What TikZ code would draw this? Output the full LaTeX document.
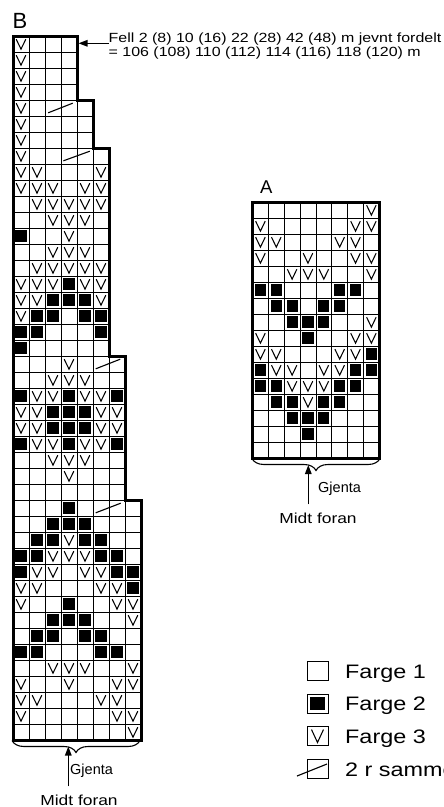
\documentclass[tikz,border=0pt]{standalone}
\usepackage{fontspec}
\setmainfont{Liberation Sans}
\newfontfamily\widesf[FakeStretch=1.2]{Liberation Sans}
\usetikzlibrary{arrows.meta,calc,decorations.pathreplacing}

\begin{document}
\begin{tikzpicture}[x=1pt,y=-1pt,
  gridline/.style={line width=.8pt},
  border/.style={line width=3pt,line join=miter},
  cell/.style={fill=black},
  vmark/.pic={\draw[line width=1.05pt] (-.3,-.3) -- (0,.32) -- (.3,-.3);},
  slash/.style={line width=1.1pt},
  arr/.style={line width=1.3pt,-{Triangle[length=9pt,width=6.5pt]}},
  brc/.style={line width=1.1pt,decorate,decoration={brace,mirror,amplitude=12pt}},
  lab/.style={inner sep=0pt},
  leg/.style={inner sep=0pt,anchor=base west,font=\widesf\fontsize{19.5}{19.5}\selectfont}]
\useasboundingbox (0,0) rectangle (444,807);

% chart B
\node[lab,anchor=base west,font=\fontsize{22}{22}\selectfont] (labB) at (12.5,28.3) {B};
\begin{scope}[shift={(13,36)},x=16pt,y=-16pt]
  \foreach \a/\b/\w in {1/3/4,4/6/5,7/19/6,20/28/7,29/43/8}
    \foreach \r in {\a,...,\b} \draw[gridline] (0,\r) -- (\w,\r);
  \foreach \c/\t in {1/0,2/0,3/0,4/4,5/7,6/20,7/29}
    \draw[gridline] (\c,\t) -- (\c,44);
  \foreach \r/\cs in {12/{0},15/{3},16/{2,3,4},17/{1,2,4,5},18/{0,1,5},19/{0},
      22/{0,3,6},23/{2,3,4},24/{2,3,4},25/{0,3,6},29/{3},30/{2,3,4},31/{1,2,4,5},
      32/{0,1,5,6},33/{0,6,7},34/{7},35/{3},36/{2,3,4},37/{1,2,4,5},38/{0,1,5,6}}
    \foreach \c in \cs \fill[cell] (\c+.15,\r+.15) rectangle (\c+.85,\r+.85);
  \foreach \r/\cs in {0/{0},1/{0},2/{0},3/{0},4/{0},5/{0},6/{0},7/{0},8/{0,1,5},
      9/{0,1,2,4,5},10/{1,2,3,4,5},11/{2,3,4},12/{3},13/{2,3,4},14/{1,2,3,4,5},
      15/{0,1,2,4,5},16/{0,1,5},17/{0},20/{3},21/{2,3,4},22/{1,2,4,5},23/{0,1,5,6},
      24/{0,1,5,6},25/{1,2,4,5},26/{2,3,4},27/{3},31/{3},32/{2,3,4},33/{1,2,4,5},
      34/{0,1,5,6},35/{0,6,7},36/{7},39/{2,3,4,7},40/{0,3,6,7},41/{0,1,5,6},
      42/{0,6,7},43/{7}}
    \foreach \c in \cs \pic at (\c+.5,\r+.5) {vmark};
  \draw[slash] (2.2,4.8) -- (3.73,4.2);
  \draw[slash] (3.15,7.8) -- (4.8,7.2);
  \draw[slash] (5.17,20.8) -- (6.7,20.2);
  \draw[slash] (5.17,29.8) -- (6.73,29.2);
  \draw[border] (0,0) -| (4,4) -| (5,7) -| (6,20) -| (7,29) -| (8,44) -- (0,44) -- cycle;
\end{scope}
\node[lab,anchor=north west,align=left,font=\widesf\fontsize{13.3}{12.2}\selectfont] (fell) at (108.5,33)
  {Fell 2 (8) 10 (16) 22 (28) 42 (48) m jevnt fordelt\\= 106 (108) 110 (112) 114 (116) 118 (120) m};
\coordinate (fellTip) at (78.5,43.3);
\draw[arr] (fell.west |- fellTip) -- (fellTip);
\draw[brc] (12,740.5) -- (140,740.5);
\coordinate (tipB) at (68.3,746.5);
\node[lab,anchor=base west,font=\fontsize{14.5}{14.5}\selectfont] (gjB) at (70,774) {Gjenta};
\node[lab,anchor=base,font=\widesf\fontsize{14.5}{14.5}\selectfont] (midtB) at (79,805) {Midt foran};
\draw[arr] ($(midtB.north -| tipB)+(0,-8)$) -- (tipB);

% chart A
\node[lab,anchor=base west,font=\fontsize{18.5}{18.5}\selectfont] (labA) at (260,193.3) {A};
\begin{scope}[shift={(252.5,202)},x=15.85pt,y=-16pt]
  \foreach \r in {1,...,15} \draw[gridline] (0,\r) -- (8,\r);
  \foreach \c in {1,...,7} \draw[gridline] (\c,0) -- (\c,16);
  \foreach \r/\cs in {5/{0,1,5,6},6/{1,2,4,5},7/{2,3,4},8/{3},9/{7},10/{0,6,7},
      11/{0,1,5,6},12/{1,2,4,5},13/{2,3,4},14/{3}}
    \foreach \c in \cs \fill[cell] (\c+.15,\r+.15) rectangle (\c+.85,\r+.85);
  \foreach \r/\cs in {0/{7},1/{0,6,7},2/{0,1,5,6},3/{0,3,6,7},4/{2,3,4,7},7/{7},
      8/{0,6,7},9/{0,1,5,6},10/{1,2,4,5},11/{2,3,4},12/{3}}
    \foreach \c in \cs \pic at (\c+.5,\r+.5) {vmark};
  \draw[border] (0,0) rectangle (8,16);
\end{scope}
\draw[brc] (252,458.5) -- (380,458.5);
\coordinate (tipA) at (308.3,465);
\node[lab,anchor=base west,font=\fontsize{14.5}{14.5}\selectfont] (gjA) at (318,492) {Gjenta};
\node[lab,anchor=base,font=\widesf\fontsize{14.5}{14.5}\selectfont] (midtA) at (318,523) {Midt foran};
\draw[arr] ($(midtA.north -| tipA)+(0,-8)$) -- (tipA);

% legend
\foreach \k/\y/\txt in {1/678.3/Farge 1,2/710.9/Farge 2,3/743.5/Farge 3,4/776.1/2 r sammen}{
  \draw[gridline] (307,\y-17) rectangle (328,\y+2);
  \node[leg] (leg\k) at (345,\y) {\txt};
}
\fill[cell] (310.3,697.3) rectangle (324.7,709.7);
\draw[line width=1.05pt] (311.5,729.5) -- (317.5,742.5) -- (323.5,729.5);
\draw[slash] (297,776) -- (327,764);
\end{tikzpicture}
\end{document}
